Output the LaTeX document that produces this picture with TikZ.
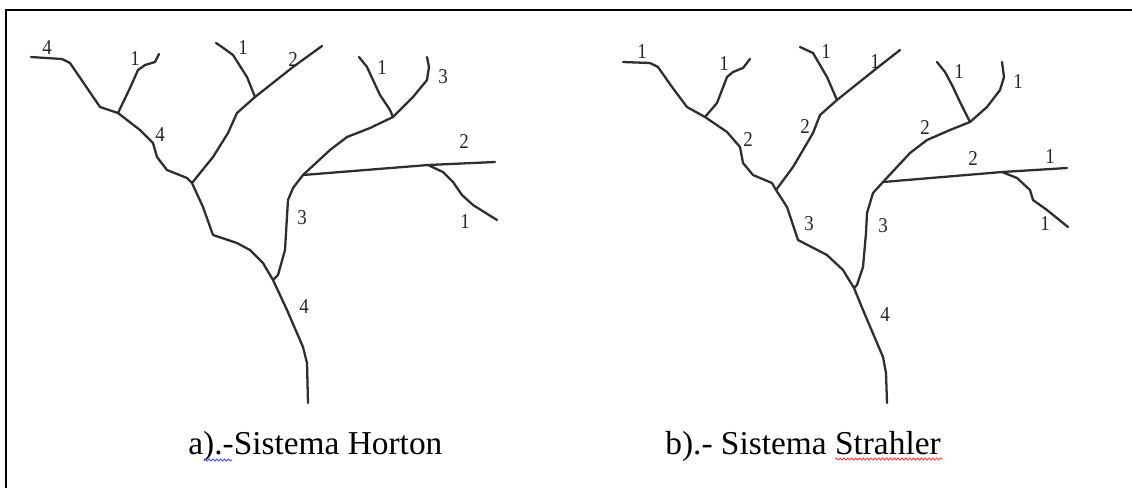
\documentclass[tikz,border=0pt]{standalone}
\usepackage{fontspec}
\setmainfont{Liberation Serif}[FakeStretch=0.9]
\newfontfamily\capfont{Liberation Serif}
\usepackage[dvipsnames]{xcolor}
\usetikzlibrary{decorations.pathmorphing}

\tikzset{
    river/.style={draw=black!82, line width=1.3pt, line join=round, line cap=round},
    ord/.style={font=\fontsize{12}{14}\selectfont, inner sep=0pt, text=black!85},
    caption/.style={font=\capfont\fontsize{19}{22}\selectfont, inner sep=0pt, anchor=base west},
    wavy/.style={line width=0.5pt, decorate, decoration={snake, amplitude=0.6pt, segment length=2.2pt}}
}

\begin{document}
\begin{tikzpicture}[x=0.02cm, y=-0.02cm]
        \useasboundingbox (0,0) rectangle (1132,488);

        % Рамка
        \draw[line width=1.4pt] (6,488) -- (6,10) -- (1132,10);

        % Слияния: система Хортона
        \coordinate (h0) at (308,403);
        \coordinate (h1) at (118,113);
        \coordinate (h2) at (192,183);
        \coordinate (h3) at (255,97);
        \coordinate (h4) at (273,280);
        \coordinate (h5) at (303,175);
        \coordinate (h6) at (393,117);
        \coordinate (h7) at (428,165);

        % Русла
        \draw[river] (31,57) -- (62,59) -- (70,63) -- (85,85) -- (100,107) -- (h1) -- (140,130)
              -- (153,143) -- (157,157) -- (167,170) -- (187,178) -- (h2);
        \draw[river] (h1) -- (130,88) -- (138,70) -- (145,65) -- (155,62) -- (159,54);
        \draw[river] (h2) -- (213,157) -- (228,133) -- (237,113) -- (h3) -- (293,67) -- (322,46);
        \draw[river] (h3) -- (247,77) -- (233,55) -- (222,47) -- (216,43);
        \draw[river] (h2) -- (203,207) -- (213,235) -- (237,243) -- (250,250) -- (263,263) -- (h4)
              -- (287,310) -- (303,347) -- (307,363) -- (h0);
        \draw[river] (h4) -- (278,275) -- (285,250) -- (286,233) -- (288,200) -- (293,188) -- (h5)
              -- (330,150) -- (347,137) -- (370,128) -- (h6) -- (413,97) -- (427,80) -- (429,67) -- (427,57);
        \draw[river] (h6) -- (390,110) -- (380,95) -- (373,80) -- (367,67) -- (359,57);
        \draw[river] (h5) -- (h7) -- (495,162);
        \draw[river] (h7) -- (443,172) -- (453,182) -- (462,195) -- (473,205) -- (497,220);

        % Слияния: система Стралера
        \coordinate (s0) at (887,403);
        \coordinate (s1) at (705,117);
        \coordinate (s2) at (776,190);
        \coordinate (s3) at (837,100);
        \coordinate (s4) at (854,288);
        \coordinate (s5) at (883,182);
        \coordinate (s6) at (970,122);
        \coordinate (s7) at (1002,172);

        % Русла
        \draw[river] (623,62) -- (650,63) -- (658,67) -- (672,87) -- (687,107) -- (s1) -- (727,132)
              -- (740,147) -- (743,163) -- (753,175) -- (772,183) -- (s2);
        \draw[river] (s1) -- (717,103) -- (727,77) -- (733,72) -- (743,68) -- (750,59);
        \draw[river] (s2) -- (793,167) -- (813,133) -- (820,115) -- (s3) -- (877,68) -- (900,50);
        \draw[river] (s3) -- (827,77) -- (813,53) -- (800,47);
        \draw[river] (s2) -- (787,207) -- (798,240) -- (827,255) -- (843,270) -- (s4)
              -- (863,310) -- (883,357) -- (886,373) -- (s0);
        \draw[river] (s4) -- (857,285) -- (863,267) -- (866,233) -- (867,213) -- (873,193) -- (s5)
              -- (910,153) -- (927,140) -- (950,130) -- (s6) -- (987,107) -- (1000,90) -- (1004,77) -- (1002,62);
        \draw[river] (s6) -- (960,102) -- (953,87) -- (945,72) -- (937,62);
        \draw[river] (s5) -- (s7) -- (1067,168);
        \draw[river] (s7) -- (1017,178) -- (1030,190) -- (1033,200) -- (1047,210) -- (1068,227);

        % Порядки водотоков
        \foreach \n/\t/\x/\y in {a/4/47/48, b/1/135/59, c/4/160/135, d/1/243/48, e/2/293/60,
                                 f/1/382/68, g/3/443/77, h/2/464/142, i/1/465/222, j/3/302/218, k/4/304/307}
            \node[ord] (ho\n) at (\x,\y) {\t};
        \foreach \n/\t/\x/\y in {a/1/642/52, b/1/724/64, c/2/748/140, d/1/826/52, e/1/875/62,
                                 f/2/805/127, g/1/959/72, h/1/1018/82, i/2/925/128, j/2/973/159,
                                 k/1/1050/157, l/1/1045/224, m/3/809/224, n/3/883/226, o/4/885/315}
            \node[ord] (st\n) at (\x,\y) {\t};

        % Подписи
        \node[caption] (capA) at (188,454) {a).-Sistema Horton};
        \node[caption] (capB) at (665,454) {b).- Sistema Strahler};
        \draw[wavy, blue!70] (204,460) -- (232,460);
        \draw[wavy, red!75] (capB.base east) ++(-106,5) -- ++(108,0);
    \end{tikzpicture}
\end{document}
